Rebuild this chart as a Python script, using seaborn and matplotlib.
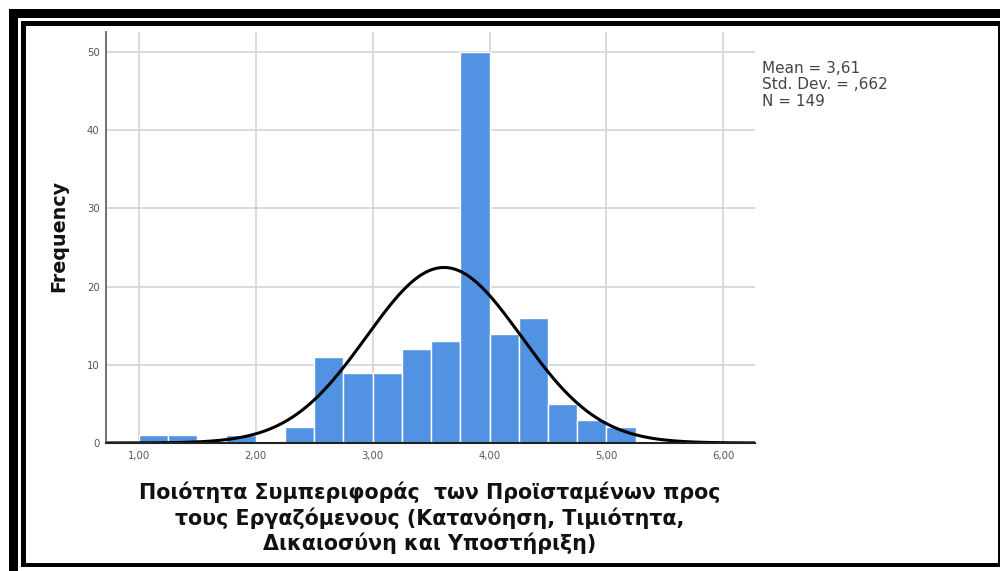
import numpy as np
import pandas as pd
import matplotlib
matplotlib.use("Agg")
import matplotlib.pyplot as plt
import seaborn as sns
from matplotlib.patches import Rectangle
from matplotlib.ticker import FuncFormatter

# ---- data ----
bin_edges = [1.00, 1.25, 1.50, 1.75, 2.00, 2.25, 2.50, 2.75, 3.00, 3.25,
             3.50, 3.75, 4.00, 4.25, 4.50, 4.75, 5.00, 5.25]
counts = [1, 1, 0, 1, 0, 2, 11, 9, 9, 12, 13, 50, 14, 16, 5, 3, 2]
mean_val = 3.61
std_val = 0.662
n_val = 149
x_ticks = [1, 2, 3, 4, 5, 6]
y_ticks = [0, 10, 20, 30, 40, 50]
x_label = "Ποιότητα Συμπεριφοράς  των Προϊσταμένων προς\nτους Εργαζόμενους (Κατανόηση, Τιμιότητα,\nΔικαιοσύνη και Υποστήριξη)"
y_label = "Frequency"
stats_text = "Mean = 3,61\nStd. Dev. = ,662\nN = 149"

sns.set_theme(style="white")
plt.rcParams['font.family'] = ['DejaVu Sans']

centers = [(a + b) / 2 for a, b in zip(bin_edges[:-1], bin_edges[1:])]
df = pd.DataFrame({"value": centers, "count": counts})

fig = plt.figure(figsize=(10, 5.71), dpi=100)
ax = fig.add_axes([0.106, 0.2242, 0.649, 0.7203])

ax.set_axisbelow(True)
ax.grid(True, color="#d4d4d4", linewidth=1.2)

sns.histplot(data=df, x="value", weights="count", bins=bin_edges, ax=ax,
             color="#5292e3", alpha=1.0, edgecolor="#ffffff", linewidth=1.0)

xmin, xmax = 0.72, 6.27
xs = np.linspace(xmin, xmax, 400)
bw = bin_edges[1] - bin_edges[0]
ys = n_val * bw / (std_val * np.sqrt(2 * np.pi)) * np.exp(-0.5 * ((xs - mean_val) / std_val) ** 2)
curve = pd.DataFrame({"x": xs, "y": ys})
sns.lineplot(data=curve, x="x", y="y", ax=ax, color="black", linewidth=2.2)

ax.set_xlim(xmin, xmax)
ax.set_ylim(0, 52.6)
ax.set_xticks(x_ticks)
ax.set_yticks(y_ticks)
ax.xaxis.set_major_formatter(FuncFormatter(lambda v, p: f"{v:.2f}".replace(".", ",")))
ax.yaxis.set_major_formatter(FuncFormatter(lambda v, p: f"{int(v)}"))
ax.tick_params(axis="both", length=0, labelsize=7.3, labelcolor="#555555")
ax.tick_params(axis="x", pad=6)
ax.tick_params(axis="y", pad=4.5)

for s in ["top", "right"]:
    ax.spines[s].set_visible(False)
ax.spines["left"].set_color("#666666")
ax.spines["left"].set_linewidth(1.3)
ax.spines["bottom"].set_color("#222222")
ax.spines["bottom"].set_linewidth(1.5)

ax.set_xlabel("")
ax.set_ylabel("")
fig.text(0.059, 0.587, y_label, rotation=90, ha="center", va="center",
         fontsize=13.8, fontweight="bold", color="#111111")
fig.text(0.43, 0.0928, x_label, ha="center", va="center", fontsize=14.9,
         fontweight="bold", color="#111111", linespacing=1.22)
fig.text(0.762, 0.894, stats_text, ha="left", va="top", fontsize=11,
         color="#444444", linespacing=1.13)

# double black frame
fig.patches.append(Rectangle((0.009, 1 - 0.0315), 1.0, 0.0158, transform=fig.transFigure,
                             facecolor="black", edgecolor="none", zorder=10))
fig.patches.append(Rectangle((0.009, 0), 0.009, 1 - 0.0175, transform=fig.transFigure,
                             facecolor="black", edgecolor="none", zorder=10))
fig.patches.append(Rectangle((0.0215, 1 - 0.0455), 0.9785, 0.0085, transform=fig.transFigure,
                             facecolor="black", edgecolor="none", zorder=10))
fig.patches.append(Rectangle((0.021, 0.007), 0.005, 1 - 0.044, transform=fig.transFigure,
                             facecolor="black", edgecolor="none", zorder=10))
fig.patches.append(Rectangle((0.021, 0.007), 0.979, 0.0072, transform=fig.transFigure,
                             facecolor="black", edgecolor="none", zorder=10))
fig.patches.append(Rectangle((0.9975, 0.007), 0.0025, 1 - 0.044, transform=fig.transFigure,
                             facecolor="black", edgecolor="none", zorder=10))

fig.savefig("out.png", dpi=100)
